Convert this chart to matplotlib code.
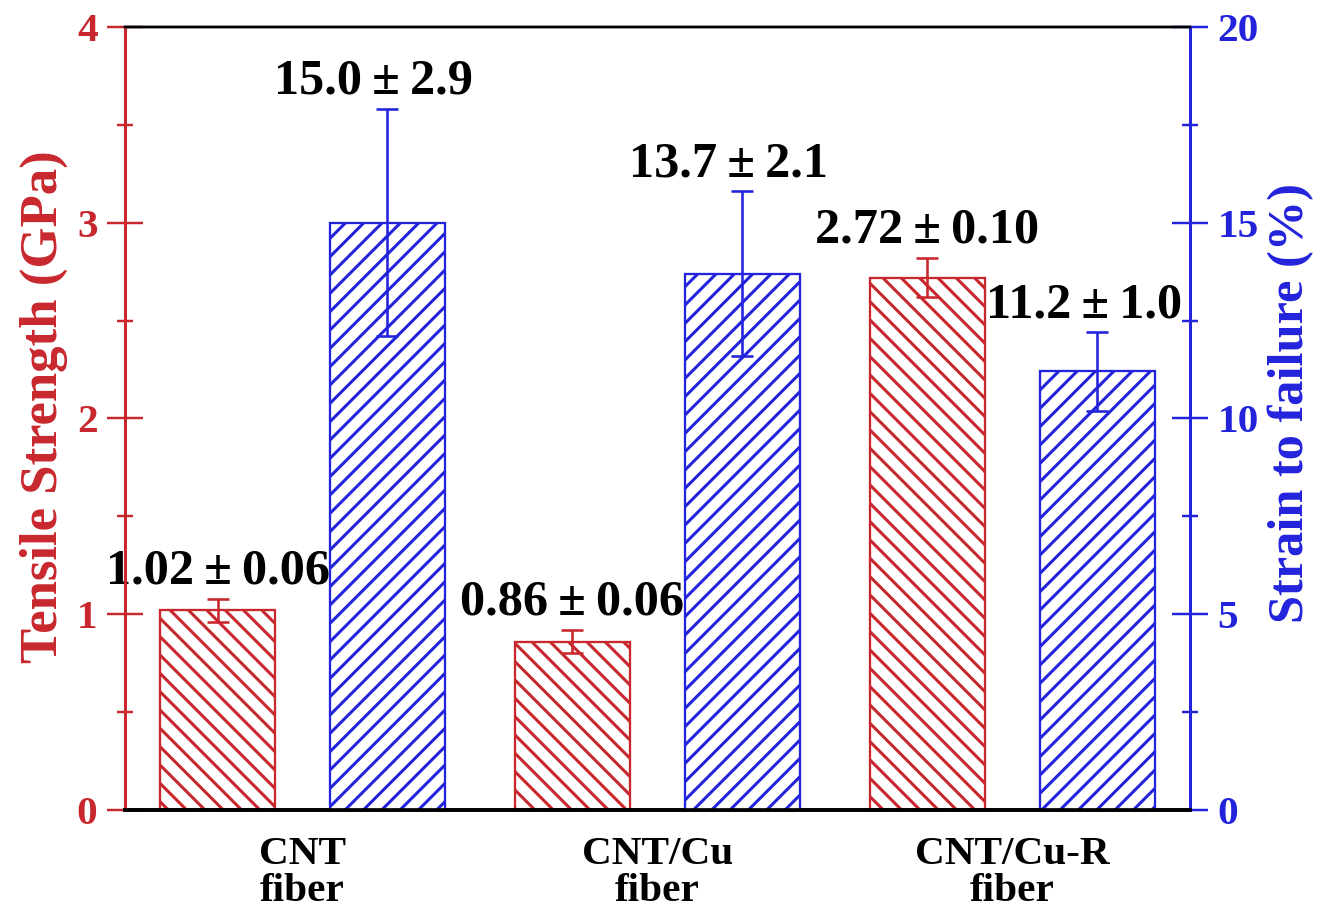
import matplotlib
matplotlib.use('Agg')
import matplotlib.pyplot as plt
import numpy as np
from matplotlib.ticker import MultipleLocator

# ---- data ----
categories = ['CNT\nfiber', 'CNT/Cu\nfiber', 'CNT/Cu-R\nfiber']
strength = [1.02, 0.86, 2.72]
strength_err = [0.06, 0.06, 0.10]
strain = [15.0, 13.7, 11.2]
strain_err = [2.9, 2.1, 1.0]
strength_labels = ['1.02\u2009±\u20090.06', '0.86\u2009±\u20090.06', '2.72\u2009±\u20090.10']
strain_labels = ['15.0\u2009±\u20092.9', '13.7\u2009±\u20092.1', '11.2\u2009±\u20091.0']

RED = '#c8282d'
BLUE = '#2323dc'

plt.rcParams['font.family'] = ['Liberation Serif', 'DejaVu Serif']
plt.rcParams['font.weight'] = 'bold'
plt.rcParams['hatch.linewidth'] = 2.0

DPI = 110
fig = plt.figure(figsize=(1337 / DPI, 910 / DPI), dpi=DPI)
ax1 = fig.add_axes([0.0935, 0.110, 0.7965, 0.8603])
ax2 = ax1.twinx()

x = np.arange(len(categories))
w = 0.324
off = 0.2394

ax1.bar(x - off, strength, width=w, facecolor='white', edgecolor=RED,
        hatch='\\\\', linewidth=1.5, zorder=2)
ax1.errorbar(x - off, strength, yerr=strength_err, fmt='none', ecolor=RED,
             elinewidth=1.7, capsize=7.5, capthick=1.7, zorder=3)

ax2.bar(x + off, strain, width=w, facecolor='white', edgecolor=BLUE,
        hatch='//', linewidth=1.5, zorder=2)
ax2.errorbar(x + off, strain, yerr=strain_err, fmt='none', ecolor=BLUE,
             elinewidth=1.7, capsize=7.5, capthick=1.7, zorder=3)

ann_fs = 33
for xi, v, e, lab in zip(x - off, strength, strength_err, strength_labels):
    ax1.annotate(lab, xy=(xi, v + e), xytext=(0, 10), textcoords='offset points',
                 ha='center', va='baseline', fontsize=ann_fs, fontweight='bold',
                 color='black', zorder=5)
for xi, v, e, lab in zip(x + off, strain, strain_err, strain_labels):
    ax2.annotate(lab, xy=(xi, v + e), xytext=(-9, 10), textcoords='offset points',
                 ha='center', va='baseline', fontsize=ann_fs, fontweight='bold',
                 color='black', zorder=5)

ax1.set_xlim(-0.5, 2.5)
ax1.set_ylim(0, 4)
ax2.set_ylim(0, 20)

ax1.set_xticks(x)
ax1.set_xticklabels(categories, fontsize=27, fontweight='bold')
for t in ax1.get_xticklabels():
    t.set_linespacing(1.0)
ax1.tick_params(axis='x', length=0, pad=17, colors='black')

ax1.yaxis.set_major_locator(MultipleLocator(1))
ax1.yaxis.set_minor_locator(MultipleLocator(0.5))
ax2.yaxis.set_major_locator(MultipleLocator(5))
ax2.yaxis.set_minor_locator(MultipleLocator(2.5))

ax1.tick_params(axis='y', which='major', direction='inout', length=24, width=1.6,
                colors=RED, labelsize=27, pad=6)
ax1.tick_params(axis='y', which='minor', direction='inout', length=11, width=1.6,
                colors=RED)
ax2.tick_params(axis='y', which='major', direction='inout', length=24, width=1.6,
                colors=BLUE, labelsize=27, pad=6)
ax2.tick_params(axis='y', which='minor', direction='inout', length=11, width=1.6,
                colors=BLUE)
for t in ax1.get_yticklabels() + ax2.get_yticklabels():
    t.set_fontweight('bold')

ax1.set_ylabel('Tensile Strength (GPa)', color=RED, fontsize=34.5, fontweight='bold',
               labelpad=6)
ax2.set_ylabel('Strain to failure (%)', color=BLUE, fontsize=33, fontweight='bold',
               labelpad=6)
ax1.yaxis.label.set_y(0.515)
ax2.yaxis.label.set_y(0.52)

for ax in (ax1, ax2):
    ax.spines['left'].set_color(RED)
    ax.spines['right'].set_color(BLUE)
    ax.spines['top'].set_color('black')
    ax.spines['bottom'].set_color('black')
    ax.spines['left'].set_linewidth(1.9)
    ax.spines['right'].set_linewidth(1.9)
    ax.spines['top'].set_linewidth(1.6)
    ax.spines['bottom'].set_linewidth(2.4)

fig.savefig('out.png', dpi=DPI)
